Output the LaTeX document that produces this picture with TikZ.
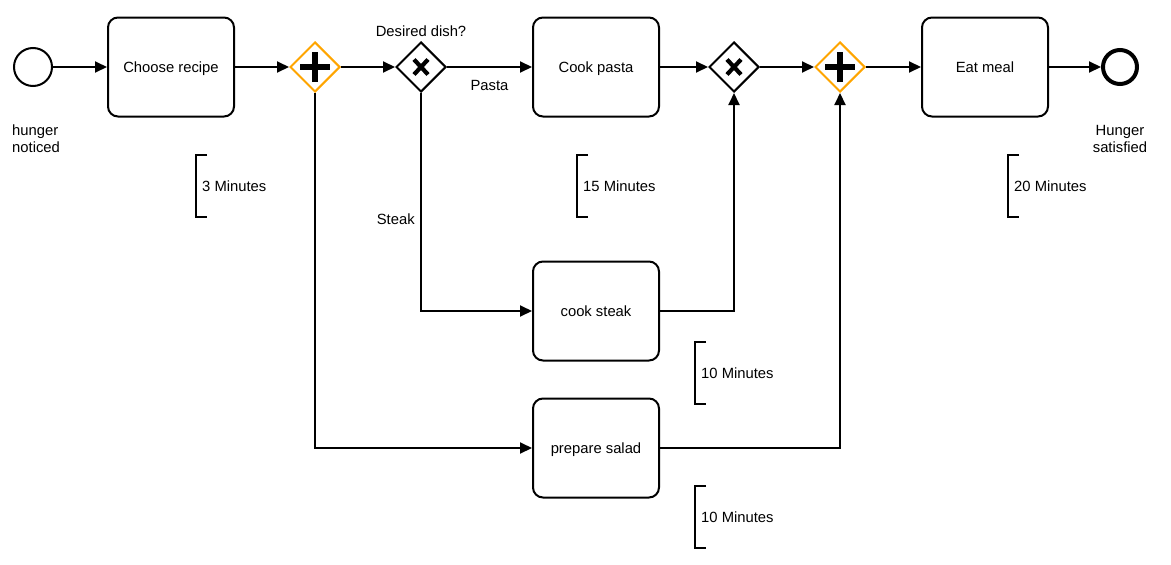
\documentclass[tikz,border=0pt]{standalone}
\usepackage{fontspec}
\setmainfont{Liberation Sans}
\usetikzlibrary{shapes.geometric,arrows.meta}

\definecolor{gwOrange}{HTML}{FFA500}

\tikzset{
	task/.style = {draw, line width=2pt, rounded corners=10pt,
		minimum width=126pt, minimum height=99pt, text height=10.6pt, text depth=0pt},
	gate/.style = {draw, diamond, line width=2pt, inner sep=0pt,
		minimum width=50pt, minimum height=50pt, fill=white},
	event/.style = {draw, circle, inner sep=0pt, minimum size=38pt, line width=2pt},
	flow/.style = {line width=2pt, -{Triangle[length=12pt,width=11pt]}},
	note/.style = {anchor=west, inner sep=0pt}
}

\newcommand{\gwPlus}[1]{%
	\draw[line width=5.5pt] ([xshift=-15pt]#1.center) -- ([xshift=15pt]#1.center);
	\draw[line width=5.5pt] ([yshift=-15pt]#1.center) -- ([yshift=15pt]#1.center);}
\newcommand{\gwCross}[1]{%
	\draw[line width=4.2pt] ([xshift=-7pt,yshift=-7.5pt]#1.center) -- ([xshift=7pt,yshift=7.5pt]#1.center);
	\draw[line width=4.2pt] ([xshift=-7pt,yshift=7.5pt]#1.center) -- ([xshift=7pt,yshift=-7.5pt]#1.center);}
\newcommand{\timeNote}[3]{%
	\draw[line width=2pt] (#1+11,#2-31) -- (#1,#2-31) -- (#1,#2+31) -- (#1+11,#2+31);
	\node[note] at (#1+6,#2) {#3};}

\begin{document}
\begin{tikzpicture}[x=1pt, y=-1pt, font=\fontsize{14.8}{17}\selectfont]
	\useasboundingbox (0,0) rectangle (1171,565);

	% events
	\node[event] (start) at (33,67) {};
	\node[event, line width=4pt, minimum size=34pt] (end) at (1120,67) {};
	\node[anchor=west, align=left, inner sep=0pt] (startlbl) at (12,138.5) {hunger\\noticed};
	\node[align=center, inner sep=0pt] (endlbl) at (1120,138.5) {Hunger\\satisfied};

	% tasks
	\node[task] (recipe) at (171,67) {Choose recipe};
	\node[task] (pasta) at (596,67) {Cook pasta};
	\node[task] (steak) at (596,311) {cook steak};
	\node[task] (salad) at (596,448) {prepare salad};
	\node[task] (eat) at (985,67) {Eat meal};

	% gateways
	\node[gate, draw=gwOrange] (fork) at (315,67) {};
	\node[gate, label={[yshift=1pt]above:Desired dish?}] (choice) at (421,67) {};
	\node[gate] (merge) at (734,67) {};
	\node[gate, draw=gwOrange] (join) at (840,67) {};
	\gwPlus{fork}
	\gwPlus{join}
	\gwCross{choice}
	\gwCross{merge}

	% flows
	\draw[flow] (start) -- (recipe);
	\draw[flow] (recipe) -- (fork);
	\draw[flow] (fork) -- (choice);
	\draw[flow] (choice) -- node[below=9pt] {Pasta} (pasta);
	\draw[flow] (choice) |- node[pos=0.29, left=2pt] {Steak} (steak);
	\draw[flow] (fork) |- (salad);
	\draw[flow] (pasta) -- (merge);
	\draw[flow] (steak) -| (merge);
	\draw[flow] (merge) -- (join);
	\draw[flow] (salad) -| (join);
	\draw[flow] (join) -- (eat);
	\draw[flow] (eat) -- (end);

	% annotations
	\timeNote{196}{186}{3 Minutes}
	\timeNote{577}{186}{15 Minutes}
	\timeNote{1008}{186}{20 Minutes}
	\timeNote{695}{373}{10 Minutes}
	\timeNote{695}{517}{10 Minutes}
\end{tikzpicture}
\end{document}
